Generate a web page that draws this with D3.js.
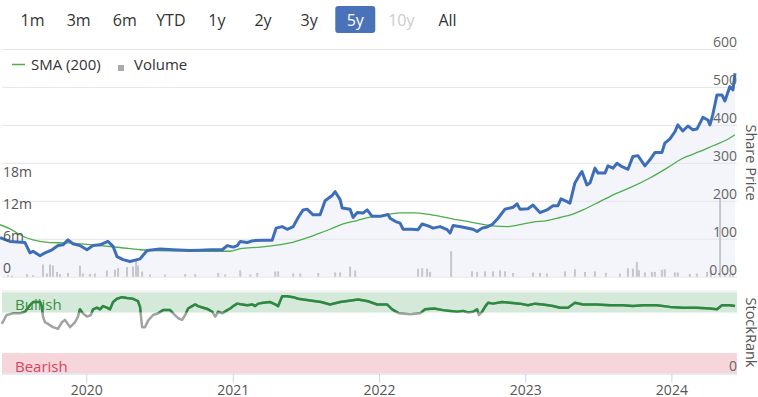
<!DOCTYPE html>
<html>
<head>
<meta charset="utf-8">
<script src="https://cdn.jsdelivr.net/npm/d3@7"></script>
<style>
  body { margin: 0; background: #fff; }
  svg { display: block; font-family: "Open Sans", sans-serif; }
</style>
</head>
<body>
<div id="chart"></div>
<script>
// range selector
const rangeLabels = ["1m", "3m", "6m", "YTD", "1y", "2y", "3y", "5y", "10y", "All"];
const selectedRange = "5y";
const disabledRange = "10y";

// share price (decimal years / price)
const priceYears = [2019.410,2019.478,2019.581,2019.615,2019.636,2019.684,2019.718,2019.766,2019.807,2019.841,2019.875,2019.909,2019.957,2020.005,2020.046,2020.094,2020.148,2020.183,2020.210,2020.251,2020.299,2020.347,2020.367,2020.415,2020.504,2020.593,2020.709,2020.777,2020.845,2020.928,2020.962,2021.003,2021.030,2021.051,2021.098,2021.139,2021.208,2021.269,2021.296,2021.337,2021.372,2021.413,2021.447,2021.481,2021.508,2021.549,2021.597,2021.631,2021.679,2021.700,2021.734,2021.748,2021.802,2021.823,2021.850,2021.891,2021.919,2021.953,2022.008,2022.062,2022.076,2022.110,2022.144,2022.165,2022.226,2022.267,2022.295,2022.336,2022.370,2022.418,2022.466,2022.486,2022.507,2022.568,2022.643,2022.671,2022.705,2022.739,2022.773,2022.814,2022.862,2022.917,2022.944,2022.964,2023.019,2023.053,2023.101,2023.149,2023.190,2023.224,2023.245,2023.286,2023.306,2023.340,2023.375,2023.388,2023.422,2023.443,2023.477,2023.498,2023.546,2023.566,2023.601,2023.628,2023.662,2023.703,2023.737,2023.771,2023.819,2023.853,2023.887,2023.935,2023.955,2023.990,2024.024,2024.044,2024.078,2024.113,2024.147,2024.174,2024.215,2024.249,2024.263,2024.283,2024.311,2024.345,2024.365,2024.399,2024.420,2024.434];
const priceValues = [103,93,90,63,67,55,63,71,82,84,97,87,82,71,82,84,93,80,53,45,40,45,47,69,73,71,69,70,71,71,82,78,82,93,90,95,96,96,128,132,125,132,156,176,178,163,163,200,214,224,203,181,178,156,169,168,176,159,159,164,154,146,141,125,125,124,139,134,128,132,124,115,135,131,125,119,128,131,137,154,178,183,192,178,179,189,169,176,187,187,205,198,194,247,270,277,242,247,286,273,273,292,286,299,290,283,317,319,292,308,327,327,352,363,382,400,384,397,387,389,420,413,400,428,479,479,463,501,492,536];

// SMA (200)
const smaYears = [2019.410,2019.478,2019.581,2019.636,2019.752,2019.868,2020.094,2020.230,2020.367,2020.552,2020.709,2020.866,2020.982,2021.051,2021.188,2021.276,2021.392,2021.481,2021.576,2021.665,2021.755,2021.850,2021.939,2022.008,2022.076,2022.144,2022.233,2022.329,2022.418,2022.507,2022.603,2022.691,2022.780,2022.875,2022.964,2023.053,2023.149,2023.239,2023.327,2023.395,2023.511,2023.628,2023.737,2023.853,2023.969,2024.078,2024.195,2024.283,2024.379,2024.434];
const smaValues = [137,126,104,97,90,89,82,77,71,68,68,67,67,74,78,82,89,99,112,125,139,148,157,161,165,168,168,165,159,152,146,139,134,132,137,144,148,156,165,176,198,220,238,260,286,312,330,345,361,374];

// volume, millions
const volumeYears = [2019.465,2019.492,2019.595,2019.636,2019.704,2019.731,2019.752,2019.772,2019.800,2019.820,2019.875,2019.957,2019.977,2020.025,2020.059,2020.141,2020.196,2020.217,2020.278,2020.319,2020.340,2020.353,2020.381,2020.435,2020.538,2020.675,2020.743,2020.900,2020.948,2021.051,2021.119,2021.167,2021.290,2021.310,2021.413,2021.461,2021.584,2021.700,2021.734,2021.802,2021.837,2022.267,2022.295,2022.329,2022.349,2022.493,2022.636,2022.671,2022.725,2022.780,2022.828,2022.862,2022.917,2023.053,2023.101,2023.149,2023.272,2023.340,2023.409,2023.477,2023.552,2023.648,2023.703,2023.737,2023.764,2023.778,2023.819,2023.867,2023.887,2023.935,2023.955,2024.024,2024.044,2024.126,2024.174,2024.243,2024.270,2024.332,2024.365,2024.399,2024.420];
const volumeValues = [0.3,0.2,0.5,0.3,2.3,0.6,2.3,2.1,0.9,0.5,0.7,2.1,0.6,0.5,0.6,1.2,1.3,1.6,1.8,1.9,3.0,2.1,1.0,0.4,0.4,0.5,0.5,0.7,0.4,1.2,0.4,0.7,1.0,1.0,0.6,0.6,0.7,0.8,0.8,1.9,1.2,1.5,1.6,1.5,0.9,4.8,1.0,0.9,1.0,1.0,1.2,1.0,0.7,0.8,0.7,0.6,1.0,1.4,0.9,1.0,0.7,0.6,1.6,1.5,2.8,1.2,0.8,0.9,0.9,1.3,1.4,0.8,0.8,0.5,0.6,0.9,1.2,14.8,0.6,0.5,0.6];

// StockRank
const rankYears = [2019.422,2019.456,2019.499,2019.547,2019.581,2019.615,2019.636,2019.663,2019.684,2019.697,2019.704,2019.718,2019.738,2019.772,2019.807,2019.834,2019.854,2019.889,2019.923,2019.943,2019.957,2019.977,2020.005,2020.032,2020.046,2020.073,2020.094,2020.114,2020.141,2020.162,2020.183,2020.210,2020.244,2020.278,2020.319,2020.353,2020.367,2020.381,2020.401,2020.422,2020.456,2020.490,2020.524,2020.572,2020.593,2020.627,2020.654,2020.675,2020.695,2020.722,2020.743,2020.763,2020.798,2020.832,2020.859,2020.880,2020.900,2020.928,2020.962,2020.982,2021.003,2021.030,2021.064,2021.098,2021.133,2021.153,2021.174,2021.208,2021.256,2021.290,2021.310,2021.337,2021.372,2021.413,2021.447,2021.529,2021.604,2021.665,2021.734,2021.857,2021.925,2021.987,2022.055,2022.090,2022.137,2022.213,2022.281,2022.315,2022.377,2022.438,2022.486,2022.534,2022.575,2022.609,2022.643,2022.671,2022.684,2022.705,2022.725,2022.746,2022.780,2022.841,2022.896,2022.964,2023.019,2023.067,2023.122,2023.190,2023.239,2023.293,2023.340,2023.395,2023.491,2023.580,2023.668,2023.737,2023.805,2023.901,2023.990,2024.078,2024.174,2024.263,2024.311,2024.345,2024.399,2024.434];
const rankValues = [61,72,74,74,76,84,88,88,88,82,70,63,61,57,55,63,66,57,63,70,79,74,70,72,79,81,79,83,81,79,88,92,94,93,92,89,82,57,57,65,72,74,78,78,74,68,66,72,80,83,85,83,81,79,76,70,76,74,78,80,83,86,85,84,85,83,86,87,88,85,83,95,95,94,92,90,88,85,88,91,89,85,85,79,74,73,74,79,80,78,77,76,77,75,76,79,72,76,82,87,86,88,87,86,84,86,85,83,81,81,87,85,85,84,84,83,84,84,82,81,81,80,79,84,84,83];

const priceTicks = [0, 100, 200, 300, 400, 500, 600];
const volumeTicks = [0, 6, 12, 18];
const rankBands = [{ name: "Bullish", from: 75, to: 100 }, { name: "Bearish", from: 0, to: 25 }];

function yearToDate(t) {
  const y = Math.floor(t);
  const a = Date.UTC(y, 0, 1), b = Date.UTC(y + 1, 0, 1);
  return new Date(a + (t - y) * (b - a));
}

const zip = (ts, vs) => ts.map((t, i) => ({ date: yearToDate(t), v: vs[i] }));
const price = zip(priceYears, priceValues);
const sma = zip(smaYears, smaValues);
const volume = zip(volumeYears, volumeValues);
const rank = zip(rankYears, rankValues);

const width = 758, height = 397;
const left = 2, right = 737;

const svg = d3.select("#chart").append("svg")
  .attr("width", width)
  .attr("height", height);

const x = d3.scaleUtc()
  .domain([yearToDate(2019.410), yearToDate(2024.434)])
  .range([0, 735]);
const yPrice = d3.scaleLinear().domain([0, 600]).range([276.7, 49]);
const yVol = d3.scaleLinear().domain([0, 18]).range([276.7, 180.7]);
const yRank = d3.scaleLinear().domain([0, 100]).range([373.3, 292.3]);

// range buttons
const bx = d3.scalePoint().domain(rangeLabels).range([32.5, 447.5]);
svg.append("rect")
  .attr("x", bx(selectedRange) - 20).attr("y", 6)
  .attr("width", 40).attr("height", 27).attr("rx", 3)
  .attr("fill", "#4a72b8");
svg.selectAll("text.btn")
  .data(rangeLabels)
  .enter().append("text")
  .attr("class", "btn")
  .attr("x", d => bx(d))
  .attr("y", 26)
  .attr("text-anchor", "middle")
  .attr("font-size", 16)
  .attr("fill", d => d === selectedRange ? "#fff" : d === disabledRange ? "#cccccc" : "#333")
  .text(d => d);

// price area
svg.append("path")
  .datum(price)
  .attr("fill", "#f3f5fb")
  .attr("d", d3.area().x(d => x(d.date)).y0(yPrice(0)).y1(d => yPrice(d.v)));

// gridlines
svg.append("g")
  .attr("transform", `translate(${left},0)`)
  .call(d3.axisLeft(yPrice).tickValues(priceTicks).tickSize(-(right - left)).tickFormat(""))
  .call(g => g.select(".domain").remove())
  .selectAll("line").attr("stroke", "#e6e6e6");

// legend
svg.append("line").attr("x1", 12).attr("x2", 25).attr("y1", 64.5).attr("y2", 64.5)
  .attr("stroke", "#4cae4c").attr("stroke-width", 1.5);
svg.append("text").attr("x", 31).attr("y", 70).attr("font-size", 15).attr("fill", "#333").text("SMA (200)");
svg.append("rect").attr("x", 118).attr("y", 65).attr("width", 6).attr("height", 6).attr("fill", "#aaaaaa");
svg.append("text").attr("x", 134).attr("y", 70).attr("font-size", 15).attr("fill", "#333").text("Volume");

// volume bars
svg.selectAll("rect.vol")
  .data(volume)
  .enter().append("rect")
  .attr("class", "vol")
  .attr("x", d => x(d.date) - 1)
  .attr("width", 2)
  .attr("y", d => yVol(d.v))
  .attr("height", d => yVol(0) - yVol(d.v))
  .attr("fill", "#c6c7cd");

// SMA line
svg.append("path")
  .datum(sma)
  .attr("fill", "none")
  .attr("stroke", "#4cae4c")
  .attr("stroke-width", 1.3)
  .attr("d", d3.line().curve(d3.curveMonotoneX).x(d => x(d.date)).y(d => yPrice(d.v)));

// price line
svg.append("path")
  .datum(price)
  .attr("fill", "none")
  .attr("stroke", "#3f6eb8")
  .attr("stroke-width", 3)
  .attr("stroke-linejoin", "round")
  .attr("d", d3.line().x(d => x(d.date)).y(d => yPrice(d.v)));

// right price labels
svg.append("g")
  .attr("transform", `translate(${right},0)`)
  .call(d3.axisLeft(yPrice).tickValues(priceTicks).tickSize(0).tickPadding(0)
    .tickFormat(d => d === 0 ? "0.00" : d))
  .call(g => g.select(".domain").remove())
  .selectAll("text")
  .attr("dy", -2.5)
  .attr("font-size", 14)
  .attr("font-family", "Open Sans")
  .attr("fill", "#666");

// left volume labels
svg.append("g")
  .attr("transform", "translate(3,0)")
  .call(d3.axisRight(yVol).tickValues(volumeTicks).tickSize(0).tickPadding(0)
    .tickFormat(d => d === 0 ? "0" : d + "m"))
  .call(g => g.select(".domain").remove())
  .selectAll("text")
  .attr("dy", -4.5)
  .attr("font-size", 14)
  .attr("font-family", "Open Sans")
  .attr("fill", "#555");

// axis titles
svg.append("text")
  .attr("transform", "translate(745.5,162.5) rotate(90)")
  .attr("text-anchor", "middle")
  .attr("font-size", 14.5)
  .attr("fill", "#555")
  .text("Share Price");
svg.append("text")
  .attr("transform", "translate(745.5,332.5) rotate(90)")
  .attr("text-anchor", "middle")
  .attr("font-size", 14.5)
  .attr("fill", "#555")
  .text("StockRank");

// StockRank panel
svg.append("line").attr("x1", left).attr("x2", right).attr("y1", 291).attr("y2", 291)
  .attr("stroke", "#e6e6e6");
svg.selectAll("rect.band")
  .data(rankBands)
  .enter().append("rect")
  .attr("class", "band")
  .attr("x", left)
  .attr("width", right - left)
  .attr("y", d => yRank(d.to))
  .attr("height", d => yRank(d.from) - yRank(d.to))
  .attr("fill", d => d.name === "Bullish" ? "#d4e9da" : "#f6d6da");
svg.append("text").attr("x", 15).attr("y", 310).attr("font-size", 15)
  .attr("fill", "#3d8f44").text("Bullish");
svg.append("text").attr("x", 15).attr("y", 371.5).attr("font-size", 15)
  .attr("fill", "#d64560").text("Bearish");
svg.append("text").attr("x", right).attr("y", 371).attr("text-anchor", "end")
  .attr("font-size", 14).attr("fill", "#666").text("0");

svg.append("clipPath").attr("id", "bull")
  .append("rect").attr("x", 0).attr("y", 0).attr("width", width).attr("height", yRank(75));

const rankLine = d3.line().x(d => x(d.date)).y(d => yRank(d.v));
svg.append("path")
  .datum(rank)
  .attr("fill", "none")
  .attr("stroke", "#a3a3a3")
  .attr("stroke-width", 2.5)
  .attr("stroke-linejoin", "round")
  .attr("d", rankLine);
svg.append("path")
  .datum(rank)
  .attr("fill", "none")
  .attr("stroke", "#2a8a3e")
  .attr("stroke-width", 2.5)
  .attr("stroke-linejoin", "round")
  .attr("clip-path", "url(#bull)")
  .attr("d", rankLine);

// x axis
const xAxis = svg.append("g")
  .attr("transform", "translate(0,373.8)")
  .call(d3.axisBottom(x).ticks(d3.utcYear.every(1)).tickFormat(d3.utcFormat("%Y")).tickSize(9).tickPadding(2));
xAxis.select(".domain").remove();
xAxis.selectAll("line").attr("stroke", "#ccd6eb");
xAxis.selectAll("text").attr("font-size", 14).attr("font-family", "Open Sans").attr("fill", "#555");
svg.append("line").attr("x1", left).attr("x2", right).attr("y1", 374).attr("y2", 374)
  .attr("stroke", "#ccd6eb");
</script>
</body>
</html>
